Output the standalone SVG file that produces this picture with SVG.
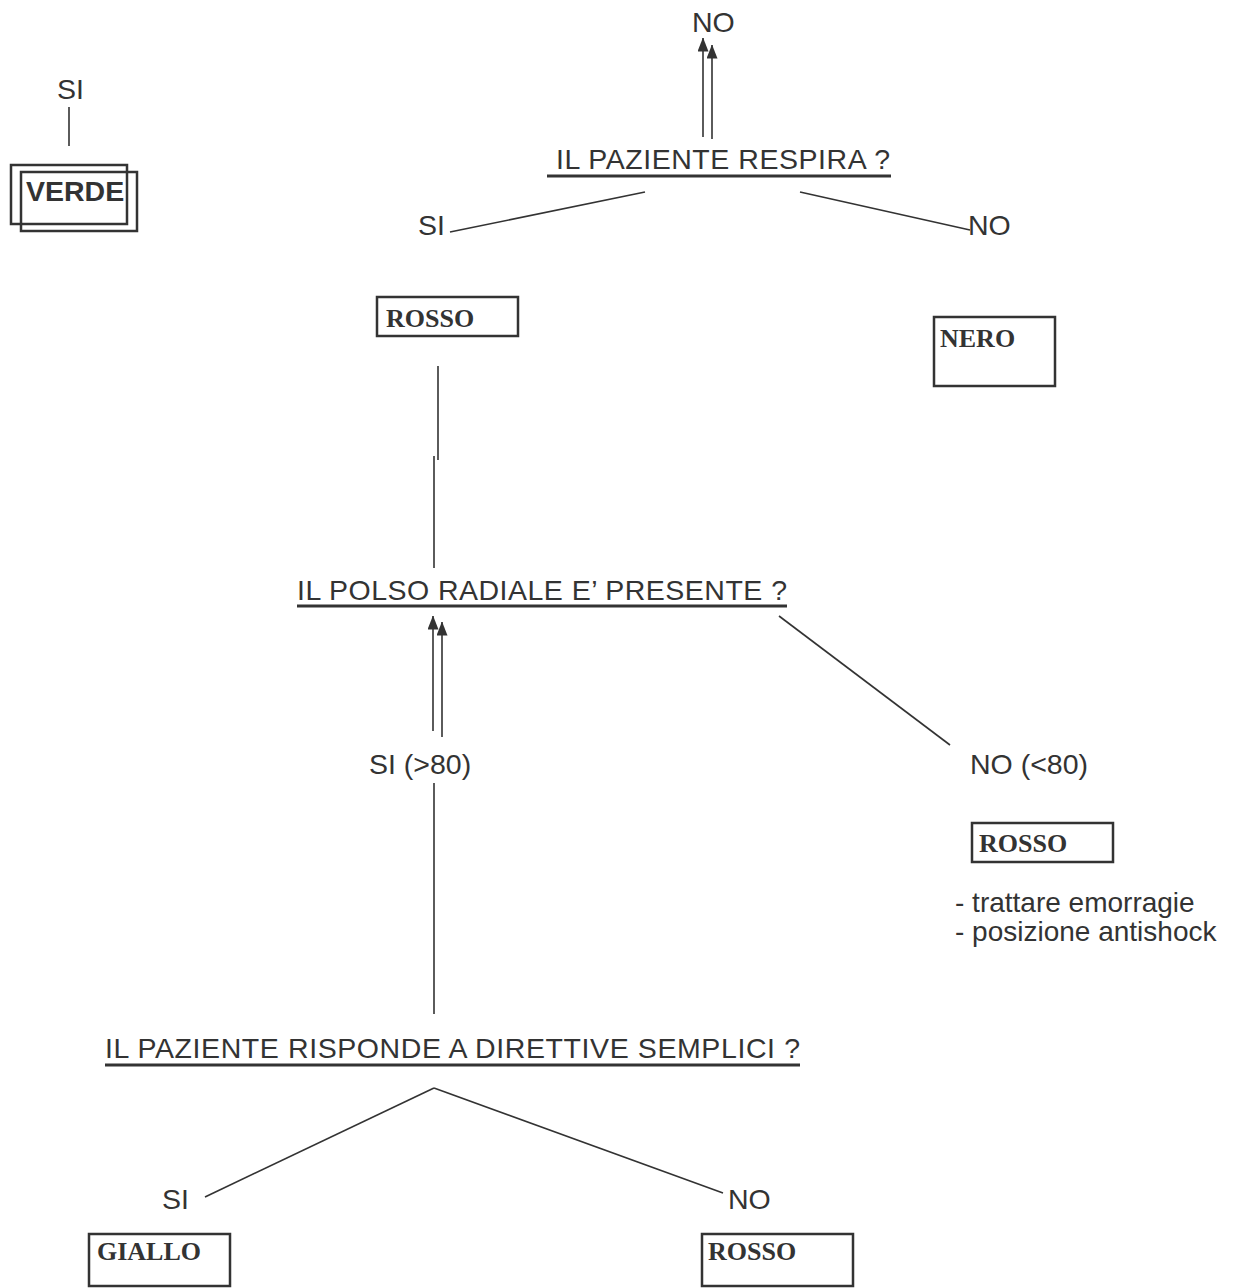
<svg xmlns="http://www.w3.org/2000/svg" width="1244" height="1288" viewBox="0 0 1244 1288">
<style>
.t{font-family:"Liberation Sans",Arial,sans-serif;font-size:28.5px;fill:#333}
.s{font-family:"Liberation Sans",Arial,sans-serif;font-size:28px;fill:#333}
.b{font-family:"Liberation Serif","Times New Roman",serif;font-size:26px;font-weight:bold;fill:#333}
.box{fill:none;stroke:#333;stroke-width:2.5}
.ln{stroke:#333;stroke-width:1.6;fill:none}
.ul{stroke:#333;stroke-width:3}
</style>
<defs>
<marker id="ah" markerUnits="userSpaceOnUse" markerWidth="14" markerHeight="11" viewBox="0 0 14 11" refX="13.5" refY="5.5" orient="auto">
<path d="M0,0 L14,5.5 L0,11 Z" fill="#333"/>
</marker>
</defs>
<rect width="1244" height="1288" fill="#fff"/>
<g id="connectors">
<line class="ln" x1="703" y1="137" x2="703" y2="38" marker-end="url(#ah)"/>
<line class="ln" x1="712" y1="139" x2="712" y2="45" marker-end="url(#ah)"/>
<line class="ln" x1="450" y1="232" x2="645" y2="192"/>
<line class="ln" x1="800" y1="192" x2="970" y2="230"/>
<line class="ln" x1="438" y1="366" x2="438" y2="460"/>
<line class="ln" x1="434" y1="456" x2="434" y2="568"/>
<line class="ln" x1="433" y1="731" x2="433" y2="616" marker-end="url(#ah)"/>
<line class="ln" x1="442" y1="737" x2="442" y2="622" marker-end="url(#ah)"/>
<line class="ln" x1="779" y1="616" x2="950" y2="745"/>
<line class="ln" x1="434" y1="783" x2="434" y2="1014"/>
<line class="ln" x1="434" y1="1088" x2="205" y2="1197"/>
<line class="ln" x1="434" y1="1088" x2="723" y2="1193"/>
<line class="ln" x1="69" y1="107" x2="69" y2="146"/>
</g>
<g id="verde">
<text class="t" x="57" y="99">SI</text>
<rect class="box" x="11" y="165" width="116" height="59" stroke-width="1.6"/>
<rect class="box" x="21" y="172" width="116" height="59" stroke-width="1.6"/>
<text class="t" x="26" y="201" font-weight="bold" font-size="29.5">VERDE</text>
</g>
<g id="q1">
<text class="t" x="692" y="32">NO</text>
<text class="t" x="556" y="169" textLength="334" lengthAdjust="spacing">IL PAZIENTE RESPIRA ?</text>
<line class="ul" x1="547" y1="176" x2="891" y2="176"/>
<text class="t" x="418" y="235">SI</text>
<text class="t" x="968" y="235">NO</text>
</g>
<g id="rosso1">
<rect class="box" x="377" y="297" width="141" height="39"/>
<text class="b" x="386" y="327">ROSSO</text>
</g>
<g id="nero">
<rect class="box" x="934" y="317" width="121" height="69"/>
<text class="b" x="940" y="347">NERO</text>
</g>
<g id="q2">
<text class="t" x="297" y="600" textLength="490" lengthAdjust="spacing">IL POLSO RADIALE E’ PRESENTE ?</text>
<line class="ul" x1="297" y1="606" x2="787" y2="606"/>
<text class="t" x="369" y="774">SI (&gt;80)</text>
<text class="t" x="970" y="774">NO (&lt;80)</text>
</g>
<g id="rosso2">
<rect class="box" x="972" y="823" width="141" height="39"/>
<text class="b" x="979" y="852">ROSSO</text>
<text class="s" x="955" y="912">- trattare emorragie</text>
<text class="s" x="955" y="941">- posizione antishock</text>
</g>
<g id="q3">
<text class="t" x="105" y="1058" textLength="695" lengthAdjust="spacing">IL PAZIENTE RISPONDE A DIRETTIVE SEMPLICI ?</text>
<line class="ul" x1="105" y1="1065" x2="800" y2="1065"/>
<text class="t" x="162" y="1209">SI</text>
<text class="t" x="728" y="1209">NO</text>
</g>
<g id="giallo">
<rect class="box" x="89" y="1234" width="141" height="52"/>
<text class="b" x="97" y="1260">GIALLO</text>
</g>
<g id="rosso3">
<rect class="box" x="702" y="1234" width="151" height="52"/>
<text class="b" x="708" y="1260">ROSSO</text>
</g>
</svg>
